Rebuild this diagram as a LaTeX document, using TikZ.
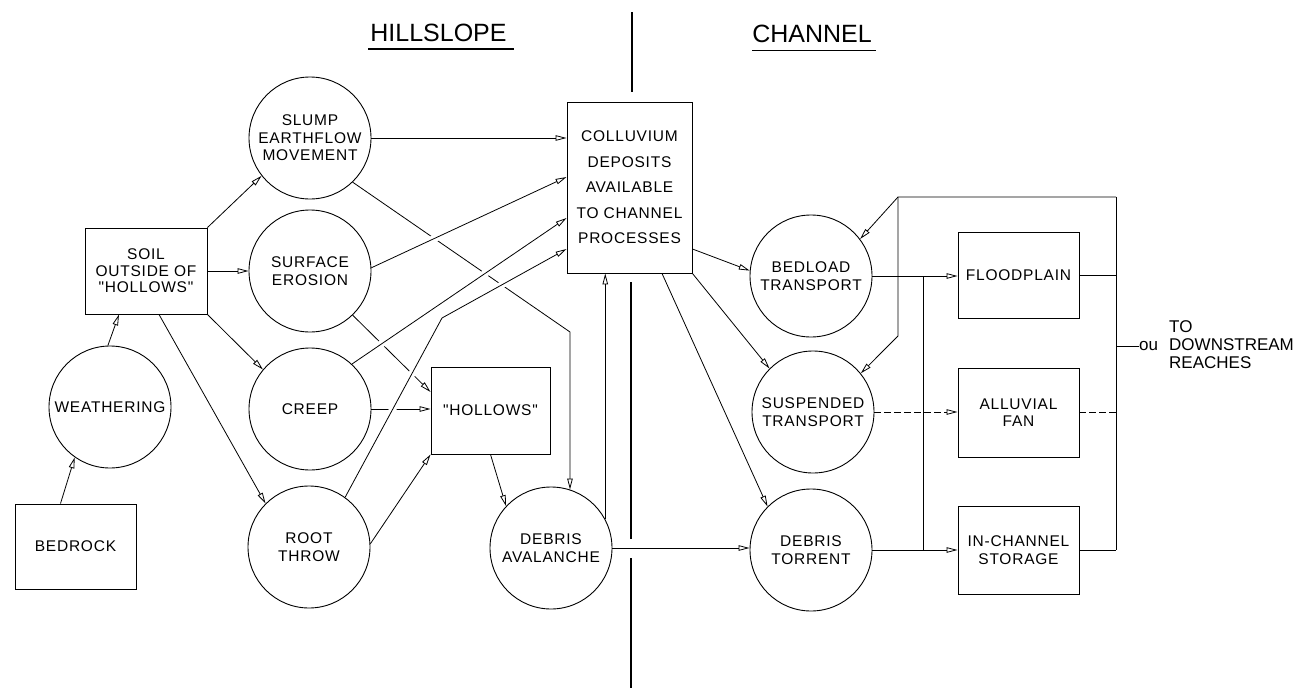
\documentclass[tikz,border=0pt]{standalone}
\usepackage{fontspec}
\setmainfont{Liberation Sans}
\newfontfamily\labfont[LetterSpace=5]{Liberation Sans}
\usetikzlibrary{arrows.meta}
\begin{document}
\begin{tikzpicture}[x=1pt,y=-1pt,
  lab/.style={font=\labfont\fontsize{15.5}{17.5}\selectfont, align=center, text=black},
  circ/.style={lab, draw, circle, minimum size=122pt, inner sep=0pt, line width=0.9pt},
  rbox/.style={lab, draw, rectangle, inner sep=0pt, line width=0.9pt},
  arr/.style={line width=0.8pt, -{Triangle[open,length=11pt,width=5.5pt]}},
  ln/.style={line width=0.8pt},
  over/.style={preaction={draw=white, line width=7pt, arrows=-, shorten <=14pt, shorten >=18pt}},
  dsh/.style={dash pattern=on 7pt off 3pt},
  title/.style={font=\fontsize{25}{28}\selectfont, inner sep=0pt},
  outtext/.style={font=\fontsize{17}{18}\selectfont, inner sep=0pt, anchor=west}
]
\fill[white] (0,0) rectangle (1296,688);
\useasboundingbox (0,0) rectangle (1296,688);

% titles
\node[title] (hill) at (438.5,32.5) {HILLSLOPE};
\draw[line width=1.4pt] ([xshift=-2pt,yshift=-7.5pt]hill.south west) -- ([xshift=7pt,yshift=-7.5pt]hill.south east);
\node[title] (chan) at (812,33.5) {CHANNEL};
\draw[line width=1.4pt] ([xshift=0pt,yshift=-8pt]chan.south west) -- ([xshift=4pt,yshift=-8pt]chan.south east);

% divider
\draw[line width=1.5pt] (632,12) -- (632,92);
\draw[line width=1.5pt] (631,282) -- (631,539);
\draw[line width=1.5pt] (631,558) -- (631,688);

% hillslope nodes
\node[rbox, minimum width=121pt, minimum height=85pt] (bedrock) at (75.5,546.5) {BEDROCK};
\node[circ] (weather) at (110,407) {WEATHERING};
\node[rbox, minimum width=122pt, minimum height=86pt, font=\labfont\fontsize{15.5}{16.5}\selectfont] (soil) at (146,271) {SOIL\\OUTSIDE OF\\"HOLLOWS"};
\node[circ] (slump) at (310,138) {SLUMP\\EARTHFLOW\\MOVEMENT};
\node[circ] (surface) at (310,271) {SURFACE\\EROSION};
\node[circ] (creep) at (310,409) {CREEP};
\node[circ] (root) at (309,547) {ROOT\\THROW};
\node[rbox, minimum width=119pt, minimum height=87pt] (hollows) at (490.5,410.5) {"HOLLOWS"};
\node[circ] (avalanche) at (551,548) {DEBRIS\\AVALANCHE};
\node[rbox, minimum width=125pt, minimum height=171pt, font=\labfont\fontsize{15.5}{25.5}\selectfont] (colluv) at (629.5,187.5) {COLLUVIUM\\DEPOSITS\\AVAILABLE\\TO CHANNEL\\PROCESSES};

% channel nodes
\node[circ] (bedload) at (811,276) {BEDLOAD\\TRANSPORT};
\node[circ] (suspended) at (813,412) {SUSPENDED\\TRANSPORT};
\node[circ] (torrent) at (811,550) {DEBRIS\\TORRENT};
\node[rbox, minimum width=121pt, minimum height=86pt] (flood) at (1018.5,275) {FLOODPLAIN};
\node[rbox, minimum width=121pt, minimum height=89pt] (fan) at (1018.5,412.5) {ALLUVIAL\\FAN};
\node[rbox, minimum width=121pt, minimum height=88pt] (storage) at (1018.5,550) {IN-CHANNEL\\STORAGE};

% hillslope connectors
\draw[arr] ([xshift=-15pt]bedrock.north) -- (weather.235);
\draw[arr] (weather.92) -- ([xshift=-27pt]soil.south);
\draw[arr] (soil.north east) -- (slump.218);
\draw[arr] (soil.east) -- (surface.west);
\draw[arr] (soil.south east) -- (creep.140);
\draw[arr] ([xshift=13pt]soil.south) -- (root.135);

% lines that are broken at crossings
\coordinate (sc) at (570,332);
\draw[arr] (slump.-46) -- (sc) -- (avalanche.72);
\draw[arr] (surface.-46) -- ([yshift=18.5pt]hollows.west);
\draw[arr] (creep.east) -- (creep.east -| hollows.west);
\draw[arr] (hollows.south) -- (avalanche.137);
\draw[arr] (root.3) -- (hollows.south west);

% lines that pass over
\draw[arr] (slump.east) -- (slump.east -| colluv.west);
\draw[arr, over] (surface.3) -- ([yshift=10.5pt]colluv.west);
\draw[arr, over] (creep.47) -- ([yshift=-30.5pt]colluv.west);
\coordinate (rc) at (442,318);
\draw[arr, over] (root.54) -- (rc) -- ([yshift=-61.5pt]colluv.west);

\draw[arr] (avalanche.28) -- (avalanche.28 |- colluv.south);
\draw[arr] (avalanche.east) -- (avalanche.east -| torrent.west);

% colluvium to channel
\draw[arr] ([yshift=-61.5pt]colluv.east) -- (bedload.175);
\draw[arr] (colluv.south east) -- (suspended.135);
\draw[arr] ([xshift=32.5pt]colluv.south) -- (torrent.135);

% channel network
\coordinate (fbTL) at (898,197);
\coordinate (fbTR) at (1116,197);
\coordinate (fbM) at (898,336);
\coordinate (col) at (923,276);
\draw[arr] (fbTR) -- (fbTL) -- (bedload.37);
\draw[arr] (fbTL) -- (fbM) -- (suspended.39);
\draw[arr] (bedload.east) -- (bedload.east -| flood.west);
\draw[arr, dsh] (suspended.east) -- (suspended.east -| fan.west);
\draw[arr] (torrent.east) -- (torrent.east -| storage.west);
\draw[ln] (bedload.east -| col) -- (torrent.east -| col);
\draw[ln] (fbTR) -- (storage.east -| fbTR);
\draw[ln] (flood.east) -- (flood.east -| fbTR);
\draw[ln, dsh] (fan.east) -- (fan.east -| fbTR);
\draw[ln] (storage.east) -- (storage.east -| fbTR);

% output
\node[outtext] (ou) at (1139,346) {ou};
\draw[ln] (ou.west -| fbTR) -- (ou.west);
\node[outtext, align=left] (down) at (1169,345) {TO\\DOWNSTREAM\\REACHES};
\end{tikzpicture}
\end{document}
